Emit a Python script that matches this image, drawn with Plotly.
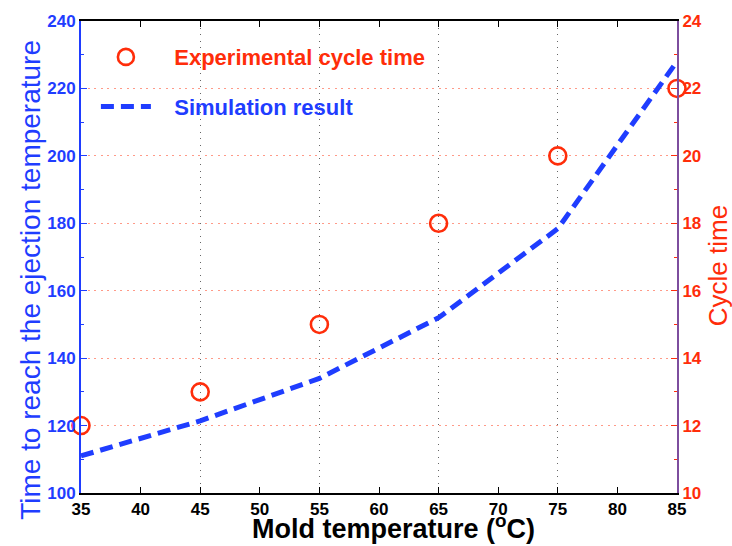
import plotly.graph_objects as go

# Mold temperature (°C)
mold_temp = [35, 45, 55, 65, 75, 85]
# Simulated time to reach the ejection temperature (left axis)
sim_time = [111, 121.4, 134, 152, 178.4, 228]
# Measured cycle time (right axis)
cycle_time = [12, 13, 15, 18, 20, 22]

x_ticks = [35, 40, 45, 50, 55, 60, 65, 70, 75, 80, 85]
x_grid = [35, 45, 55, 65, 75, 85]
left_ticks = [100, 120, 140, 160, 180, 200, 220, 240]
right_ticks = [10, 12, 14, 16, 18, 20, 22, 24]

BLUE = "#1f3dff"
RED = "#ff2d0a"
FONT = "Liberation Sans, Arial, Helvetica, sans-serif"
PAD = "&nbsp;&nbsp;&nbsp;"

fig = go.Figure()

fig.add_trace(go.Scatter(
    x=mold_temp, y=cycle_time, yaxis="y2",
    mode="markers",
    marker=dict(symbol="circle-open", size=17, color=RED, line=dict(width=2.6, color=RED)),
    name=f'{PAD}<b><span style="color:{RED}">Experimental cycle time</span></b>',
    legendgroup="a", cliponaxis=False,
))
fig.add_trace(go.Scatter(
    x=mold_temp, y=sim_time, yaxis="y",
    mode="lines",
    line=dict(color=BLUE, width=5, dash="13px,7px"),
    name=f'{PAD}<b><span style="color:{BLUE}">Simulation result</span></b>',
    legendgroup="b",
))
# invisible trace carrying the vertical grid axis
fig.add_trace(go.Scatter(x=[x_grid[0]], y=[left_ticks[0]], xaxis="x2", yaxis="y",
                         mode="markers", marker=dict(opacity=0), showlegend=False, hoverinfo="skip"))

fig.update_layout(
    width=732, height=546,
    margin=dict(l=81, r=55, t=16, b=53),
    plot_bgcolor="white", paper_bgcolor="white",
    font=dict(family=FONT),
    showlegend=True,
    legend=dict(x=0.025, y=0.968, xanchor="left", yanchor="top",
                bgcolor="rgba(0,0,0,0)", font=dict(size=22, family=FONT),
                tracegroupgap=18, traceorder="grouped", itemwidth=50),
    xaxis=dict(
        range=[35, 85], tickvals=x_ticks, ticktext=[str(v) for v in x_ticks],
        showgrid=False, zeroline=False,
        showline=True, linecolor="black", linewidth=1.5, mirror="ticks",
        ticks="inside", ticklen=6, tickcolor="black",
        tickfont=dict(size=17, color="black", family=FONT, weight="bold"),
    ),
    xaxis2=dict(
        range=[35, 85], overlaying="x", tickvals=x_grid, showticklabels=False,
        showgrid=True, gridcolor="#666666", griddash="1px,5.5px", gridwidth=1,
        zeroline=False, showline=False, ticks="",
    ),
    yaxis=dict(
        range=[100, 240], tickvals=left_ticks,
        showgrid=False, zeroline=False,
        showline=True, linecolor=BLUE, linewidth=2,
        ticks="inside", ticklen=6, tickcolor=BLUE,
        minor=dict(ticks="inside", ticklen=3, tickcolor=BLUE, nticks=5),
        tickfont=dict(size=17, color=BLUE, family=FONT, weight="bold"),
    ),
    yaxis2=dict(
        range=[10, 24], tickvals=right_ticks, overlaying="y", side="right",
        showgrid=True, gridcolor="#ff9a88", griddash="2px,4.5px", gridwidth=1,
        zeroline=False,
        showline=True, linecolor="#7d4e9e", linewidth=2,
        ticks="inside", ticklen=6, tickcolor=RED,
        minor=dict(ticks="inside", ticklen=3, tickcolor=RED, nticks=5),
        tickfont=dict(size=17, color=RED, family=FONT, weight="bold"),
    ),
    annotations=[
        dict(text="<b>Mold temperature (<sup>o</sup>C)</b>", xref="paper", yref="paper",
             x=0.525, y=-0.113, xanchor="center", yanchor="bottom", showarrow=False,
             font=dict(size=27, color="black", family=FONT)),
        dict(text="Time to reach the ejection temperature", xref="paper", yref="paper",
             x=-0.086, y=0.451, xanchor="center", yanchor="middle", textangle=-90,
             showarrow=False, font=dict(size=28, color=BLUE, family=FONT)),
        dict(text="Cycle time", xref="paper", yref="paper",
             x=1.070, y=0.482, xanchor="center", yanchor="middle", textangle=-90,
             showarrow=False, font=dict(size=26, color=RED, family=FONT)),
    ],
)

fig.write_html("out.html")
